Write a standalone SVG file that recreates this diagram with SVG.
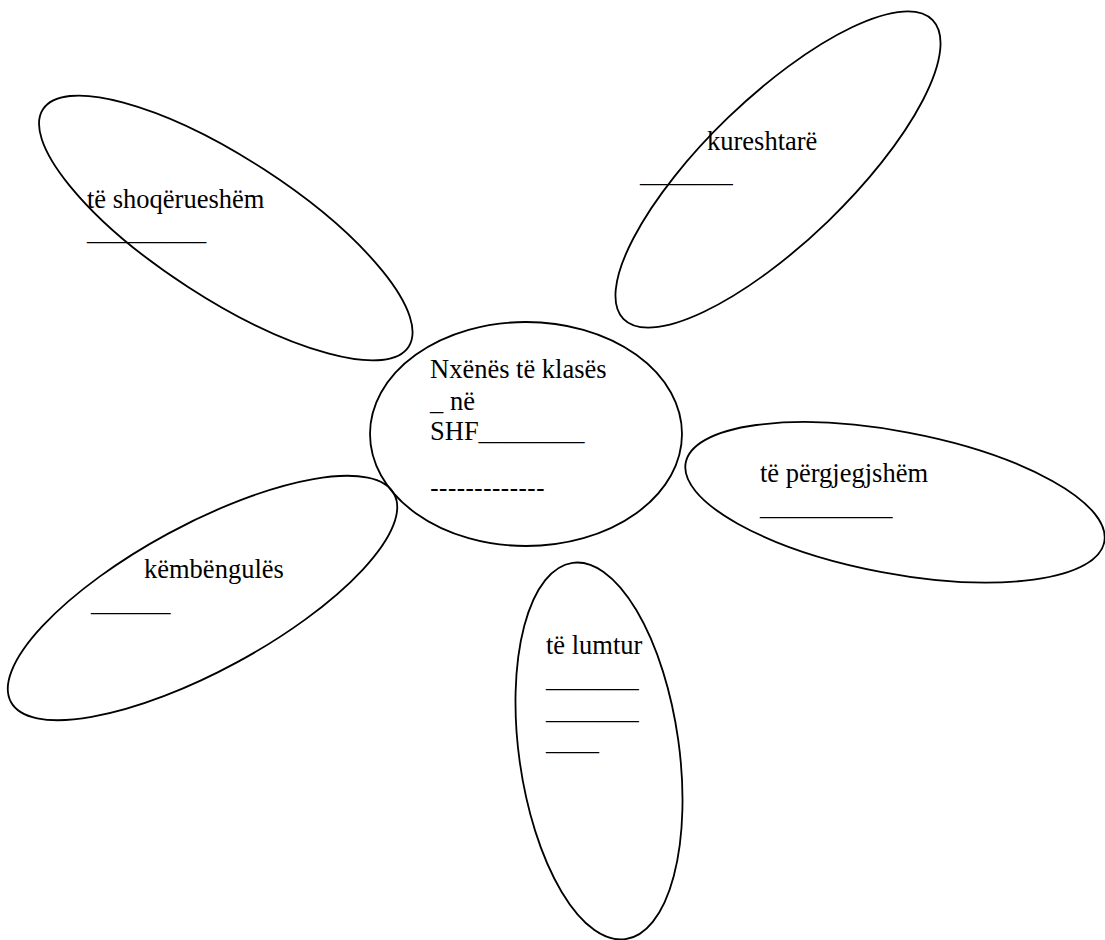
<svg xmlns="http://www.w3.org/2000/svg" width="1105" height="940" viewBox="0 0 1105 940">
<style>
.shape{fill:none;stroke:#000;stroke-width:1.8}
text{font-family:"Liberation Serif","Tinos","Times New Roman","DejaVu Serif",serif;font-size:26.5px;fill:#000}
text.d{font-family:"Liberation Sans","Arimo",Arial,sans-serif}
</style>
<rect width="1105" height="940" fill="#fff"/>
<g id="connectors"></g>
<g id="center">
<ellipse class="shape" cx="526" cy="434" rx="156" ry="112"/>
<text x="430" y="378">Nxënës të klasës</text>
<text x="430" y="410">_ në</text>
<text x="430" y="440">SHF________</text>
<text class="d" x="430" y="497">-------------</text>
</g>
<g id="petal-shoqerueshem">
<ellipse class="shape" cx="225.8" cy="228" rx="218" ry="70" transform="rotate(33 225.8 228)"/>
<text x="87" y="208">të shoqërueshëm</text>
<text x="87" y="240">_________</text>
</g>
<g id="petal-kureshtare">
<ellipse class="shape" cx="778" cy="169.5" rx="215" ry="72" transform="rotate(-44 778 169.5)"/>
<text x="707" y="150">kureshtarë</text>
<text x="640" y="182">_______</text>
</g>
<g id="petal-pergjegjshem">
<ellipse class="shape" cx="895" cy="502.3" rx="213" ry="71" transform="rotate(10.7 895 502.3)"/>
<text x="760" y="482">të përgjegjshëm</text>
<text x="760" y="515">__________</text>
</g>
<g id="petal-kembengules">
<ellipse class="shape" cx="202.5" cy="598" rx="218" ry="73" transform="rotate(-28.5 202.5 598)"/>
<text x="144" y="578">këmbëngulës</text>
<text x="91" y="611">______</text>
</g>
<g id="petal-lumtur">
<ellipse class="shape" cx="599" cy="751" rx="80" ry="190" transform="rotate(-8 599 751)"/>
<text x="546" y="654">të lumtur</text>
<text x="546" y="687">_______</text>
<text x="546" y="719">_______</text>
<text x="546" y="750">____</text>
</g>
</svg>
